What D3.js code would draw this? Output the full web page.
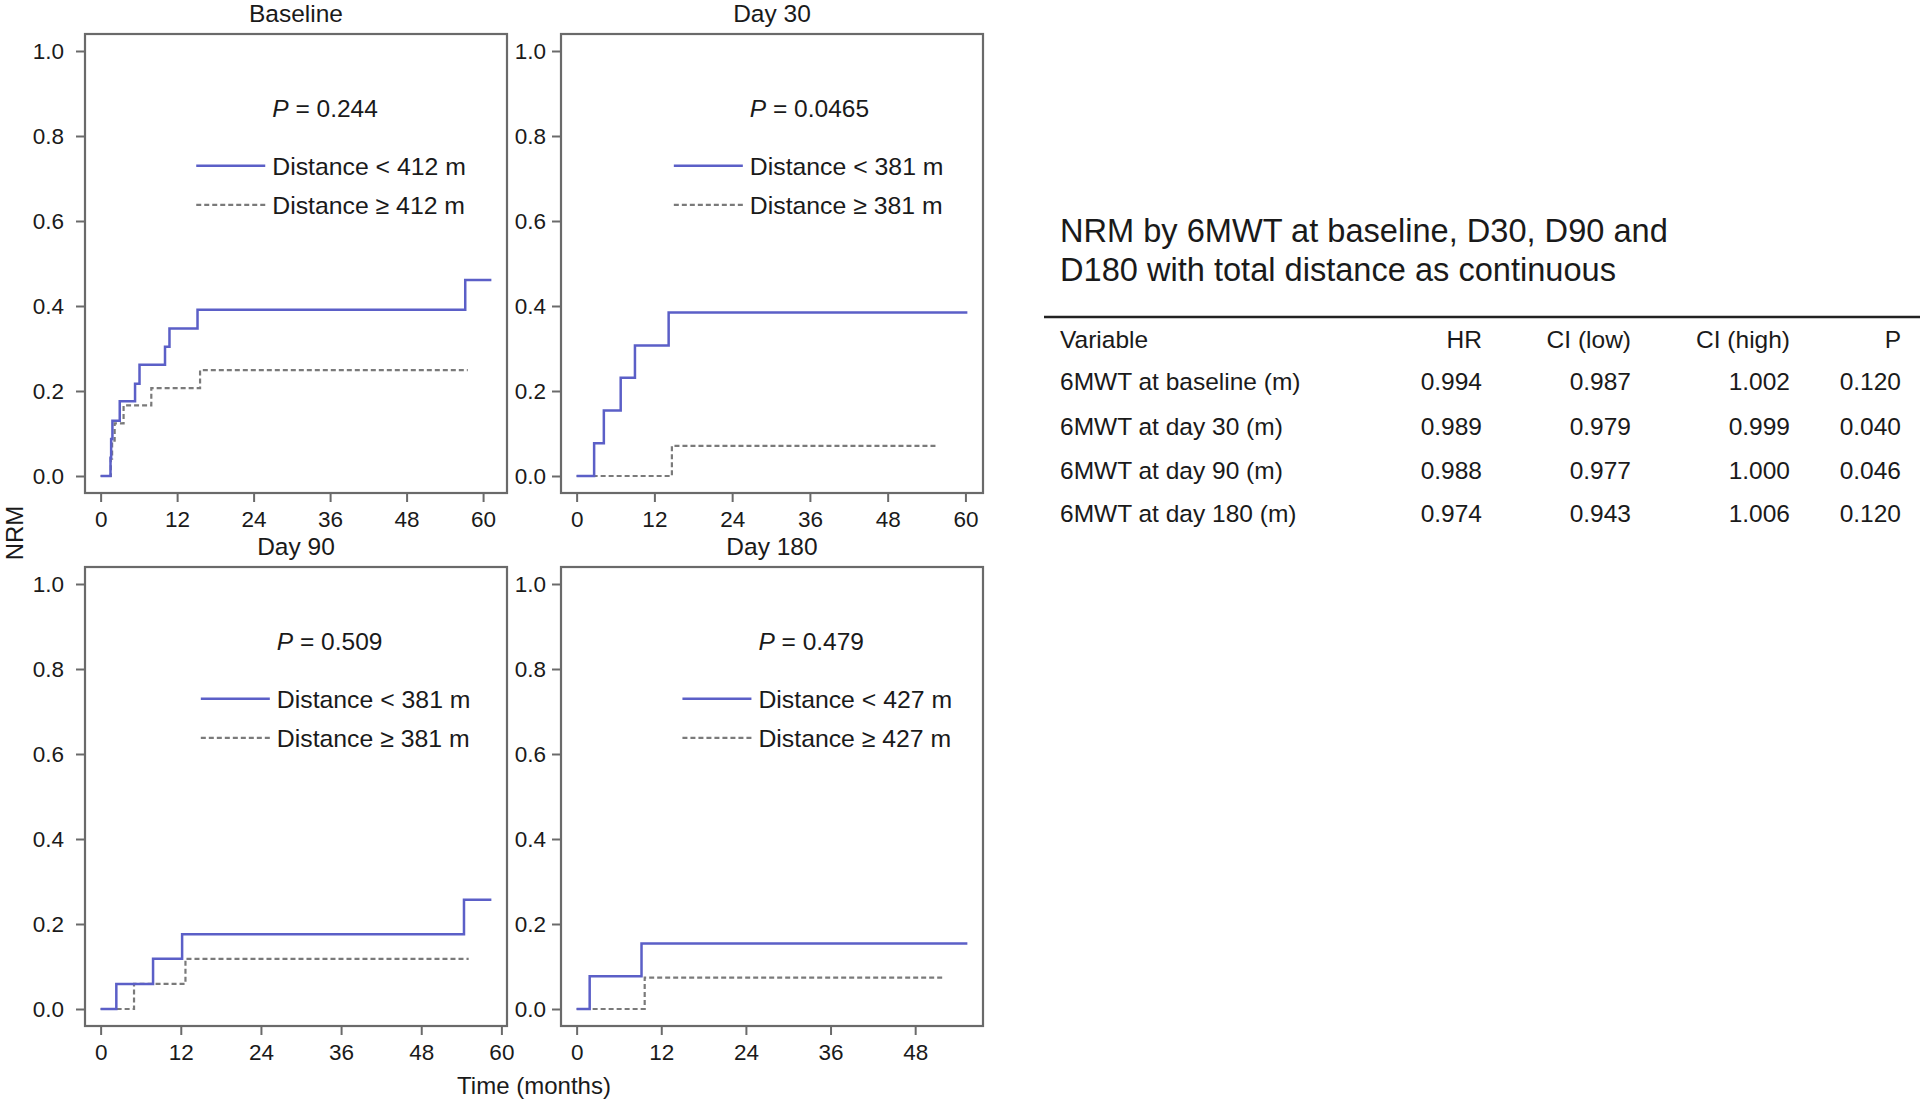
<!DOCTYPE html>
<html><head><meta charset="utf-8">
<script src="https://cdn.jsdelivr.net/npm/d3@7"></script>
<style>
body{margin:0;background:#fff;}
svg{display:block;}
text{font-family:"Liberation Sans",Arial,Helvetica,sans-serif;fill:#1a1a1a;}
</style>
</head><body>
<svg id="chart" width="1920" height="1099"></svg>
<script>
// ---------------- DATA ----------------
const panelTitles = ["Baseline", "Day 30", "Day 90", "Day 180"];
const pValues = ["0.244", "0.0465", "0.509", "0.479"];
const cutoffs = ["412", "381", "381", "427"];
const xTickValues = [0, 12, 24, 36, 48, 60];
const yTickValues = [0, 0.2, 0.4, 0.6, 0.8, 1.0];

// cumulative incidence step points [time (months), NRM]
const baselineLow  = [[0,0],[1.55,0.043],[1.65,0.087],[1.85,0.13],[3.0,0.176],[5.4,0.217],[6.1,0.262],[10.1,0.304],[10.8,0.347],[15.2,0.391],[57.2,0.461],[61.3,0.461]];
const baselineHigh = [[0,0],[1.6,0.041],[1.8,0.083],[2.2,0.124],[3.6,0.166],[7.95,0.207],[15.6,0.249],[57.6,0.249]];
const day30Low  = [[0,0],[2.7,0.077],[4.2,0.154],[6.8,0.231],[9.0,0.307],[14.2,0.385],[60.3,0.385]];
const day30High = [[0,0],[14.7,0.071],[55.5,0.071]];
const day90Low  = [[0,0],[2.35,0.059],[7.85,0.118],[12.2,0.176],[54.4,0.257],[58.5,0.257]];
const day90High = [[0,0],[5.0,0.059],[12.7,0.118],[55.1,0.118]];
const day180Low  = [[0,0],[1.85,0.077],[9.2,0.154],[55.4,0.154]];
const day180High = [[0,0],[9.65,0.074],[52.1,0.074]];

const lowSeries  = [baselineLow, day30Low, day90Low, day180Low];
const highSeries = [baselineHigh, day30High, day90High, day180High];

const yAxisTitle = "NRM";
const xAxisTitle = "Time (months)";

const tableTitle = ["NRM by 6MWT at baseline, D30, D90 and", "D180 with total distance as continuous"];
const tableHeader = ["Variable", "HR", "CI (low)", "CI (high)", "P"];
const tableVariables = ["6MWT at baseline (m)", "6MWT at day 30 (m)", "6MWT at day 90 (m)", "6MWT at day 180 (m)"];
const hrValues   = ["0.994", "0.989", "0.988", "0.974"];
const ciLowValues  = ["0.987", "0.979", "0.977", "0.943"];
const ciHighValues = ["1.002", "0.999", "1.000", "1.006"];
const pTableValues = ["0.120", "0.040", "0.046", "0.120"];

// ---------------- LAYOUT ----------------
const svg = d3.select("#chart");
const BLUE = "#5b5fc7", GREY = "#7a7a7a", FRAME = "#6a6a6a";
const colLefts = [85, 561], rowTops = [34, 567];
const PW = 422, PH = 459;

panelTitles.forEach((title, i) => {
  const x0 = colLefts[i % 2], y0 = rowTops[Math.floor(i / 2)];
  const g = svg.append("g").attr("transform", `translate(${x0},${y0})`);
  const tmax = d3.max(lowSeries[i].concat(highSeries[i]), d => d[0]);
  const x = d3.scaleLinear().domain([-0.04 * tmax, 1.04 * tmax]).range([0, PW]);
  const y = d3.scaleLinear().domain([-0.04, 1.04]).range([PH, 0]);

  // axes
  const xa = g.append("g").attr("transform", `translate(0,${PH})`)
    .call(d3.axisBottom(x).tickValues(xTickValues.filter(v => v <= 1.04 * tmax)).tickSize(9).tickPadding(9).tickSizeOuter(0));
  const ya = g.append("g")
    .call(d3.axisLeft(y).tickValues(yTickValues).tickFormat(d3.format(".1f")).tickSize(9).tickPadding(i % 2 ? 6 : 12).tickSizeOuter(0));
  [xa, ya].forEach(a => {
    a.select(".domain").remove();
    a.selectAll(".tick line").attr("stroke", FRAME).attr("stroke-width", 2);
    a.selectAll(".tick text").style("font-size", "22.5px").attr("fill", "#1a1a1a")
      .style("font-family", '"Liberation Sans",Arial,sans-serif');
  });

  // frame
  g.append("rect").attr("x", 0).attr("y", 0).attr("width", PW).attr("height", PH)
    .attr("fill", "none").attr("stroke", FRAME).attr("stroke-width", 2.2);

  // title
  g.append("text").attr("x", PW / 2).attr("y", -12).attr("text-anchor", "middle")
    .style("font-size", "24.5px").text(title);

  const line = d3.line().x(d => x(d[0])).y(d => y(d[1])).curve(d3.curveStepAfter);
  g.append("path").datum(highSeries[i]).attr("d", line).attr("fill", "none")
    .attr("stroke", GREY).attr("stroke-width", 2.2).attr("stroke-dasharray", "5,3");
  g.append("path").datum(lowSeries[i]).attr("d", line).attr("fill", "none")
    .attr("stroke", BLUE).attr("stroke-width", 2.5);

  // legend
  const lx = x(15), tx = lx + 76;
  const pt = g.append("text").attr("x", tx).attr("y", y(0.845)).style("font-size", "24.5px");
  pt.append("tspan").style("font-style", "italic").text("P");
  pt.append("tspan").text(" = " + pValues[i]);
  const rows = [["Distance < " + cutoffs[i] + " m", BLUE, null, 0.73], ["Distance \u2265 " + cutoffs[i] + " m", GREY, "5,3", 0.638]];
  rows.forEach(r => {
    g.append("line").attr("x1", lx).attr("x2", lx + 69).attr("y1", y(r[3])).attr("y2", y(r[3]))
      .attr("stroke", r[1]).attr("stroke-width", 2.4).attr("stroke-dasharray", r[2]);
    g.append("text").attr("x", tx).attr("y", y(r[3])).attr("dy", "0.36em")
      .style("font-size", "24.8px").text(r[0]);
  });
});

// axis titles
svg.append("text").attr("transform", "translate(23,533) rotate(-90)").attr("text-anchor", "middle")
  .style("font-size", "24px").text(yAxisTitle);
svg.append("text").attr("x", 534).attr("y", 1094).attr("text-anchor", "middle")
  .style("font-size", "24px").text(xAxisTitle);

// ---------------- TABLE ----------------
const tg = svg.append("g");
tableTitle.forEach((t, i) => {
  tg.append("text").attr("x", 1060).attr("y", 242 + i * 39).style("font-size", "32.6px").text(t);
});
tg.append("line").attr("x1", 1044).attr("x2", 1920).attr("y1", 317).attr("y2", 317)
  .attr("stroke", "#222").attr("stroke-width", 2.5);

const colX = [1060, 1482, 1631, 1790, 1901];
const colAnchor = ["start", "end", "end", "end", "end"];
const rowY = d3.scalePoint().domain(d3.range(tableVariables.length + 1)).range([348, 522]);
const tableRows = [tableHeader].concat(tableVariables.map((v, i) => [v, hrValues[i], ciLowValues[i], ciHighValues[i], pTableValues[i]]));
tableRows.forEach((row, r) => {
  row.forEach((cell, c) => {
    tg.append("text").attr("x", colX[c]).attr("y", rowY(r) + (r === 1 ? -2 : 0))
      .attr("text-anchor", colAnchor[c]).style("font-size", "24.5px").text(cell);
  });
});
</script>
</body></html>
